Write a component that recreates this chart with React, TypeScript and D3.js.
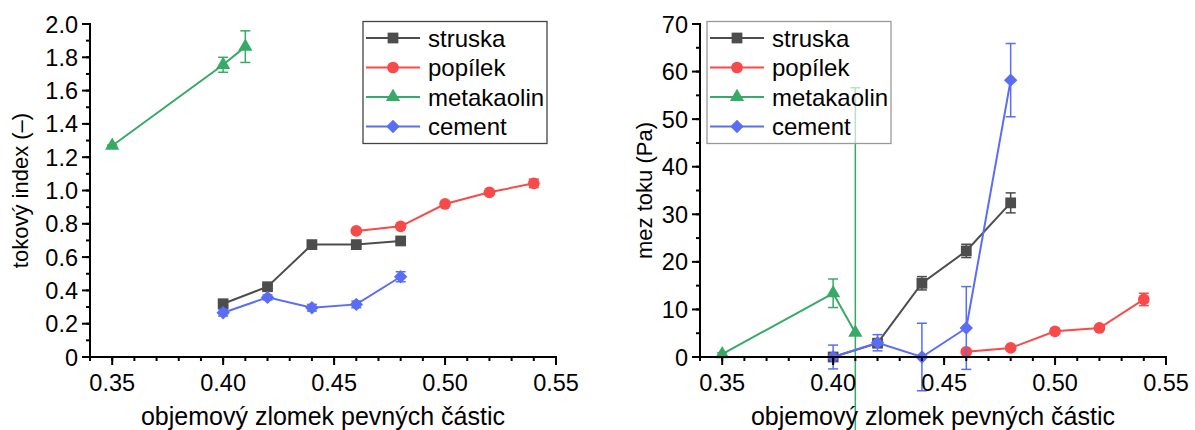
import React from "react";
import * as d3 from "d3";

// ---------- data ----------
const SERIES_NAMES = ["struska", "popílek", "metakaolin", "cement"];
const SERIES_COLORS = ["#4d4d4d", "#f74a4a", "#37aa68", "#5a6df5"];
const SERIES_SYMBOLS = ["square", "circle", "triangle", "diamond"];

const X_TICKS = [0.35, 0.4, 0.45, 0.5, 0.55];
const X_TITLE = "objemový zlomek pevných částic";

// left panel: tokový index
const LEFT_Y_TICKS = [0, 0.2, 0.4, 0.6, 0.8, 1.0, 1.2, 1.4, 1.6, 1.8, 2.0];
const LEFT_Y_TITLE = "tokový index (–)";

const flowStruskaX = [0.4, 0.42, 0.44, 0.46, 0.48];
const flowStruskaY = [0.32, 0.422, 0.675, 0.675, 0.697];
const flowStruskaErr = [0.012, 0.012, 0.01, 0.012, 0.012];

const flowPopilekX = [0.46, 0.48, 0.5, 0.52, 0.54];
const flowPopilekY = [0.757, 0.785, 0.919, 0.989, 1.043];
const flowPopilekErr = [0.01, 0.01, 0.01, 0.01, 0.025];

const flowMetaX = [0.35, 0.4, 0.41];
const flowMetaY = [1.269, 1.755, 1.864];
const flowMetaErr = [0.005, 0.045, 0.095];

const flowCementX = [0.4, 0.42, 0.44, 0.46, 0.48];
const flowCementY = [0.266, 0.358, 0.296, 0.316, 0.482];
const flowCementErr = [0.02, 0.015, 0.02, 0.02, 0.03];

// right panel: mez toku
const RIGHT_Y_TICKS = [0, 10, 20, 30, 40, 50, 60, 70];
const RIGHT_Y_TITLE = "mez toku (Pa)";

const yieldStruskaX = [0.4, 0.42, 0.44, 0.46, 0.48];
const yieldStruskaY = [0, 2.9, 15.5, 22.3, 32.4];
const yieldStruskaErr = [0.2, 0.5, 1.4, 1.4, 2.1];

const yieldPopilekX = [0.46, 0.48, 0.5, 0.52, 0.54];
const yieldPopilekY = [1.1, 1.9, 5.4, 6.1, 12.1];
const yieldPopilekErr = [0.3, 0.3, 0.4, 0.4, 1.3];

const yieldMetaX = [0.35, 0.4, 0.41];
const yieldMetaY = [0.6, 13.4, 5.1];
const yieldMetaErr = [0.3, 3.0, 51.5];

const yieldCementX = [0.4, 0.42, 0.44, 0.46, 0.48];
const yieldCementY = [0, 3.0, 0, 6.1, 58.2];
const yieldCementErr = [2.5, 1.7, 7.1, 8.7, 7.7];

// ---------- helpers ----------
const FONT = "'Liberation Sans', Arial, sans-serif";

type Series = { x: number[]; y: number[]; err: number[] };

const symbolPath = (kind: string): string => {
  if (kind === "square") return d3.symbol(d3.symbolSquare, 116)() as string;
  if (kind === "circle") return d3.symbol(d3.symbolCircle, 108)() as string;
  if (kind === "triangle") return d3.symbol(d3.symbolTriangle, 88)() as string;
  return d3.symbol(d3.symbolSquare, 90)() as string;
};

function Marker({ kind, x, y, color }: { kind: string; x: number; y: number; color: string }) {
  const rot = kind === "diamond" ? " rotate(45)" : "";
  return <path d={symbolPath(kind)} transform={`translate(${x},${y})${rot}`} fill={color} />;
}

function Panel({
  left,
  yMax,
  yTicks,
  yMinorStep,
  yTitle,
  yTitleX,
  yFormat,
  series,
  legendX,
  legendStroke,
}: {
  left: number;
  yMax: number;
  yTicks: number[];
  yMinorStep: number;
  yTitle: string;
  yTitleX: number;
  yFormat: (v: number) => string;
  series: Series[];
  legendX: number;
  legendStroke: string;
}) {
  const top = 24;
  const bottom = 357;
  const width = 466;
  const x = d3.scaleLinear().domain([0.34, 0.55]).range([left, left + width]);
  const y = d3.scaleLinear().domain([0, yMax]).range([bottom, top]);
  const line = d3
    .line<[number, number]>()
    .x((d) => x(d[0]))
    .y((d) => y(d[1]));

  const xMinor = d3.range(34, 56).map((v) => v / 100);
  const yMinor = d3.range(0, yMax + 1e-9, yMinorStep);

  return (
    <g>
      {/* data */}
      {series.map((s, i) => {
        const color = SERIES_COLORS[i];
        const pts = s.x.map((xv, j) => [xv, s.y[j]] as [number, number]);
        return (
          <g key={i}>
            <path d={line(pts) as string} fill="none" stroke={color} strokeWidth={2} />
            {pts.map((p, j) => (
              <Marker key={j} kind={SERIES_SYMBOLS[i]} x={x(p[0])} y={y(p[1])} color={color} />
            ))}
            {pts.map((p, j) => {
              const e = s.err[j];
              const cx = x(p[0]);
              const y1 = y(p[1] + e);
              const y2 = y(p[1] - e);
              return (
                <g key={"e" + j} stroke={color} strokeWidth={1.5}>
                  <line x1={cx} x2={cx} y1={y1} y2={y2} />
                  <line x1={cx - 5} x2={cx + 5} y1={y1} y2={y1} />
                  <line x1={cx - 5} x2={cx + 5} y1={y2} y2={y2} />
                </g>
              );
            })}
          </g>
        );
      })}

      {/* axes */}
      <g stroke="#000" strokeWidth={2}>
        <line x1={left} x2={left} y1={top - 1} y2={bottom + 1} />
        <line x1={left - 1} x2={left + width + 1} y1={bottom} y2={bottom} />
        {X_TICKS.map((t) => (
          <line key={"xt" + t} x1={x(t)} x2={x(t)} y1={bottom} y2={bottom + 8} />
        ))}
        {xMinor.map((t) => (
          <line key={"xm" + t} x1={x(t)} x2={x(t)} y1={bottom} y2={bottom + 4} />
        ))}
        {yTicks.map((t) => (
          <line key={"yt" + t} x1={left - 8} x2={left} y1={y(t)} y2={y(t)} />
        ))}
        {yMinor.map((t) => (
          <line key={"ym" + t} x1={left - 4} x2={left} y1={y(t)} y2={y(t)} />
        ))}
      </g>
      <g fontFamily={FONT} fill="#000">
        {X_TICKS.map((t) => (
          <text key={"xl" + t} x={x(t)} y={391} textAnchor="middle" fontSize={23.5}>
            {t.toFixed(2)}
          </text>
        ))}
        {yTicks.map((t) => (
          <text key={"yl" + t} x={left - 12} y={y(t) + 8.5} textAnchor="end" fontSize={23.5}>
            {yFormat(t)}
          </text>
        ))}
        <text x={left + width / 2} y={425} textAnchor="middle" fontSize={25}>
          {X_TITLE}
        </text>
        <text
          transform={`translate(${yTitleX},${(top + bottom) / 2}) rotate(-90)`}
          textAnchor="middle"
          fontSize={22}
        >
          {yTitle}
        </text>
      </g>

      {/* legend */}
      <g>
        <rect
          x={legendX}
          y={21.5}
          width={184}
          height={122}
          fill="#fff"
          fillOpacity={0.65}
          stroke={legendStroke}
          strokeWidth={1.3}
        />
        {SERIES_NAMES.map((name, i) => {
          const ly = 38 + i * 29.5;
          return (
            <g key={name}>
              <line
                x1={legendX + 3}
                x2={legendX + 57}
                y1={ly}
                y2={ly}
                stroke={SERIES_COLORS[i]}
                strokeWidth={2}
              />
              <Marker kind={SERIES_SYMBOLS[i]} x={legendX + 30} y={ly} color={SERIES_COLORS[i]} />
              <text x={legendX + 65} y={ly + 8.5} fontFamily={FONT} fontSize={24} fill="#000">
                {name}
              </text>
            </g>
          );
        })}
      </g>
    </g>
  );
}

export default function App() {
  const leftSeries: Series[] = [
    { x: flowStruskaX, y: flowStruskaY, err: flowStruskaErr },
    { x: flowPopilekX, y: flowPopilekY, err: flowPopilekErr },
    { x: flowMetaX, y: flowMetaY, err: flowMetaErr },
    { x: flowCementX, y: flowCementY, err: flowCementErr },
  ];
  const rightSeries: Series[] = [
    { x: yieldStruskaX, y: yieldStruskaY, err: yieldStruskaErr },
    { x: yieldPopilekX, y: yieldPopilekY, err: yieldPopilekErr },
    { x: yieldMetaX, y: yieldMetaY, err: yieldMetaErr },
    { x: yieldCementX, y: yieldCementY, err: yieldCementErr },
  ];
  return (
    <svg
      width={1195}
      height={430}
      style={{ position: "absolute", left: 0, top: 0, background: "#fff", overflow: "hidden" }}
    >
      <rect width={1195} height={430} fill="#fff" />
      <Panel
        left={90}
        yMax={2.0}
        yTicks={LEFT_Y_TICKS}
        yMinorStep={0.1}
        yTitle={LEFT_Y_TITLE}
        yTitleX={28}
        yFormat={(v) => (v === 0 ? "0" : v.toFixed(1))}
        series={leftSeries}
        legendX={363}
        legendStroke="#444"
      />
      <Panel
        left={700}
        yMax={70}
        yTicks={RIGHT_Y_TICKS}
        yMinorStep={5}
        yTitle={RIGHT_Y_TITLE}
        yTitleX={652}
        yFormat={(v) => String(v)}
        series={rightSeries}
        legendX={707}
        legendStroke="#999"
      />
    </svg>
  );
}
